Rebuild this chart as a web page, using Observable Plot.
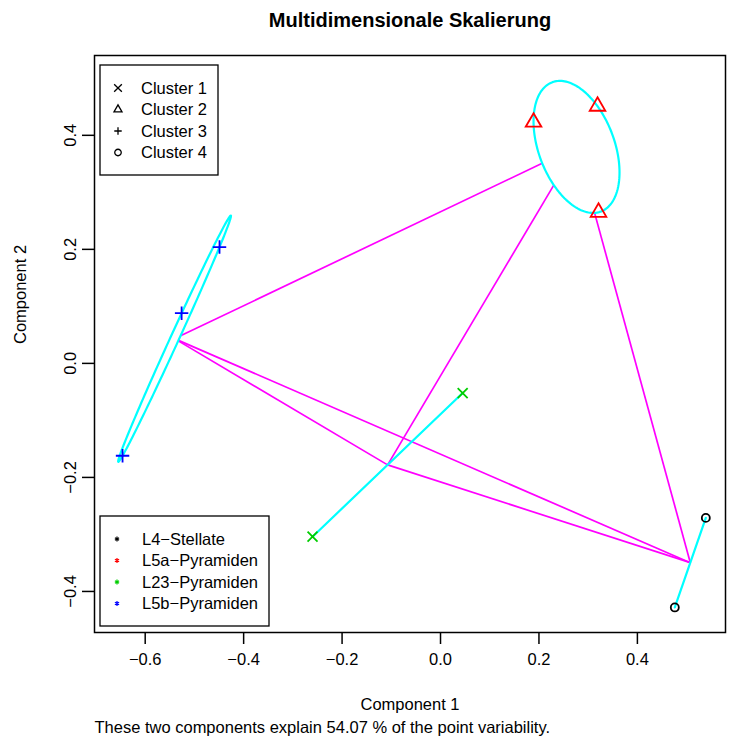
<!DOCTYPE html>
<html>
<head>
<meta charset="utf-8">
<script src="https://cdn.jsdelivr.net/npm/d3@7"></script>
<script src="https://cdn.jsdelivr.net/npm/@observablehq/plot@0.6"></script>
<style>
  html, body { margin: 0; padding: 0; background: #ffffff; }
  #chart svg { display: block; }
</style>
</head>
<body>
<div id="chart"></div>
<script>
// ---------- data ----------
const clusterNames = ["Cluster 1", "Cluster 2", "Cluster 3", "Cluster 4"];
const typeNames = ["L4\u2212Stellate", "L5a\u2212Pyramiden", "L23\u2212Pyramiden", "L5b\u2212Pyramiden"];
const typeColors = ["#000000", "#FF0000", "#00CD00", "#0000FF"];

// observations (Component 1, Component 2), their cluster and their cell type (index into typeNames)
const pointX       = [0.045, -0.260,  0.189, 0.319, 0.321,  -0.449, -0.526, -0.646,  0.539,  0.476];
const pointY       = [-0.052, -0.304, 0.423, 0.451, 0.265,   0.204,  0.088, -0.162, -0.271, -0.428];
const pointCluster = [1, 1, 2, 2, 2, 3, 3, 3, 4, 4];
const pointType    = [2, 2, 1, 1, 1, 3, 3, 3, 0, 0];

const xTicks = [-0.6, -0.4, -0.2, 0.0, 0.2, 0.4];
const yTicks = [-0.4, -0.2, 0.0, 0.2, 0.4];

const titleText = "Multidimensionale Skalierung";
const xLabel = "Component 1";
const yLabel = "Component 2";
const captionText = "These two components explain 54.07 % of the point variability.";

// ---------- styles ----------
const FONT = "'Liberation Sans', Arial, Helvetica, sans-serif";
const FS = 16.5;
const CYAN = "#00FFFF", MAGENTA = "#FF00FF";
const clusterSymbolNames = ["times", "triangle", "plus", "circle"];
const clusterSymbolR = [4.6, 5.8, 4.4, 4.0];
const legendD3Symbols = [d3.symbolTimes, d3.symbolTriangle2, d3.symbolPlus, d3.symbolCircle];
const legendSymbolSize = [40, 46, 20, 33];

// ---------- derived geometry (cluster ellipses, as clusplot does) ----------
const points = pointX.map((x, i) => ({x, y: pointY[i], cluster: pointCluster[i], type: pointType[i]}));

const geoms = [1, 2, 3, 4].map(k => {
  const pts = points.filter(p => p.cluster === k);
  const n = pts.length;
  const mx = d3.mean(pts, p => p.x), my = d3.mean(pts, p => p.y);
  const g = {k, mx, my, inv: null, outline: pts.map(p => ({x: p.x, y: p.y, cluster: k}))};
  if (n >= 3) {
    let sxx = 0, sxy = 0, syy = 0;
    for (const p of pts) { const dx = p.x - mx, dy = p.y - my; sxx += dx*dx; sxy += dx*dy; syy += dy*dy; }
    sxx /= n; sxy /= n; syy /= n;
    const det = sxx*syy - sxy*sxy;
    const ia = syy/det, ib = -sxy/det, ic = sxx/det;
    const d2 = d3.max(pts, p => { const dx = p.x - mx, dy = p.y - my; return ia*dx*dx + 2*ib*dx*dy + ic*dy*dy; });
    g.inv = [ia/d2, ib/d2, ic/d2];
    const l11 = Math.sqrt(sxx), l21 = sxy/l11, l22 = Math.sqrt(Math.max(0, syy - l21*l21));
    const r = Math.sqrt(d2);
    g.outline = d3.range(0, 361, 2).map(deg => {
      const t = deg*Math.PI/180, c = Math.cos(t), s = Math.sin(t);
      return {x: mx + r*l11*c, y: my + r*(l21*c + l22*s), cluster: k};
    });
  }
  return g;
});
const outlines = geoms.flatMap(g => g.outline);

const q = (inv, ux, uy) => inv[0]*ux*ux + 2*inv[1]*ux*uy + inv[2]*uy*uy;
const segments = [];
for (let i = 0; i < geoms.length; i++) {
  for (let j = i + 1; j < geoms.length; j++) {
    const gi = geoms[i], gj = geoms[j];
    const ux = gj.mx - gi.mx, uy = gj.my - gi.my;
    const si = gi.inv ? 1/Math.sqrt(q(gi.inv, ux, uy)) : 0;
    const sj = gj.inv ? 1/Math.sqrt(q(gj.inv, ux, uy)) : 0;
    segments.push({x1: gi.mx + si*ux, y1: gi.my + si*uy, x2: gj.mx - sj*ux, y2: gj.my - sj*uy});
  }
}

// ---------- legends (drawn in frame coordinates) ----------
function legendMark(index, scales, values, dims) {
  const L = dims.marginLeft, T = dims.marginTop, B = dims.height - dims.marginBottom;
  const g = d3.create("svg:g").attr("font-family", FONT).attr("font-size", FS)
    .attr("fill", "black").attr("text-anchor", "start");
  // legend 1 : clusters
  const b1x = L + 6, b1y = T + 10;
  g.append("rect").attr("x", b1x).attr("y", b1y).attr("width", 118).attr("height", 110)
    .attr("fill", "white").attr("stroke", "black").attr("stroke-width", 1.3);
  clusterNames.forEach((name, i) => {
    const cy = b1y + 23 + i*21.5;
    g.append("path").attr("d", d3.symbol(legendD3Symbols[i], legendSymbolSize[i])())
      .attr("transform", `translate(${b1x + 18},${cy})`)
      .attr("fill", "none").attr("stroke", "black").attr("stroke-width", 1.3);
    g.append("text").attr("x", b1x + 41).attr("y", cy).attr("dy", "0.35em")
      .attr("text-anchor", "start").text(name);
  });
  // legend 2 : cell types
  const b2h = 110, b2x = L + 6, b2y = B - 6 - b2h;
  g.append("rect").attr("x", b2x).attr("y", b2y).attr("width", 169).attr("height", b2h)
    .attr("fill", "white").attr("stroke", "black").attr("stroke-width", 1.3);
  typeNames.forEach((name, i) => {
    const cy = b2y + 23 + i*21.5;
    g.append("path").attr("d", d3.symbol(d3.symbolAsterisk, 16)())
      .attr("transform", `translate(${b2x + 17},${cy})`)
      .attr("fill", "none").attr("stroke", typeColors[i]).attr("stroke-width", 1.2);
    g.append("text").attr("x", b2x + 42).attr("y", cy).attr("dy", "0.35em")
      .attr("text-anchor", "start").text(name);
  });
  return g.node();
}

const fmt = d3.format(".1f");

const dotMarks = [1, 2, 3, 4].map(k => Plot.dot(points.filter(p => p.cluster === k), {
  x: "x", y: "y",
  symbol: clusterSymbolNames[k - 1],
  r: clusterSymbolR[k - 1],
  stroke: d => typeColors[d.type],
  fill: "none",
  strokeWidth: 1.8
}));

const chart = Plot.plot({
  width: 731,
  height: 741,
  marginLeft: 94,
  marginRight: 6,
  marginTop: 55,
  marginBottom: 109,
  x: {domain: [-0.703, 0.579]},
  y: {domain: [-0.472, 0.540]},
  style: {fontFamily: FONT, fontSize: FS + "px", background: "white", color: "black", overflow: "visible"},
  marks: [
    Plot.link(segments, {x1: "x1", y1: "y1", x2: "x2", y2: "y2", stroke: MAGENTA, strokeWidth: 1.7}),
    Plot.line(outlines, {x: "x", y: "y", z: "cluster", stroke: CYAN, strokeWidth: 2.2}),
    ...dotMarks,
    Plot.frame({stroke: "black", strokeWidth: 1.5}),
    Plot.axisX({ticks: xTicks, tickFormat: fmt, tickSize: 12, tickPadding: 9, fontSize: FS, strokeWidth: 1.5, label: null}),
    Plot.axisY({ticks: yTicks, tickFormat: fmt, tickSize: 12, tickPadding: 7, tickRotate: -90, fontSize: FS, strokeWidth: 1.5, label: null}),
    Plot.text([titleText], {text: d => d, frameAnchor: "top", dy: -43, fontSize: 20, fontWeight: "bold"}),
    Plot.text([xLabel], {text: d => d, frameAnchor: "bottom", dy: 77, fontSize: FS}),
    Plot.text([yLabel], {text: d => d, frameAnchor: "left", dx: -74, rotate: -90, fontSize: FS}),
    Plot.text([captionText], {text: d => d, frameAnchor: "bottom-left", dy: 100, textAnchor: "start", fontSize: FS}),
    legendMark
  ]
});
document.getElementById("chart").appendChild(chart);
</script>
</body>
</html>
